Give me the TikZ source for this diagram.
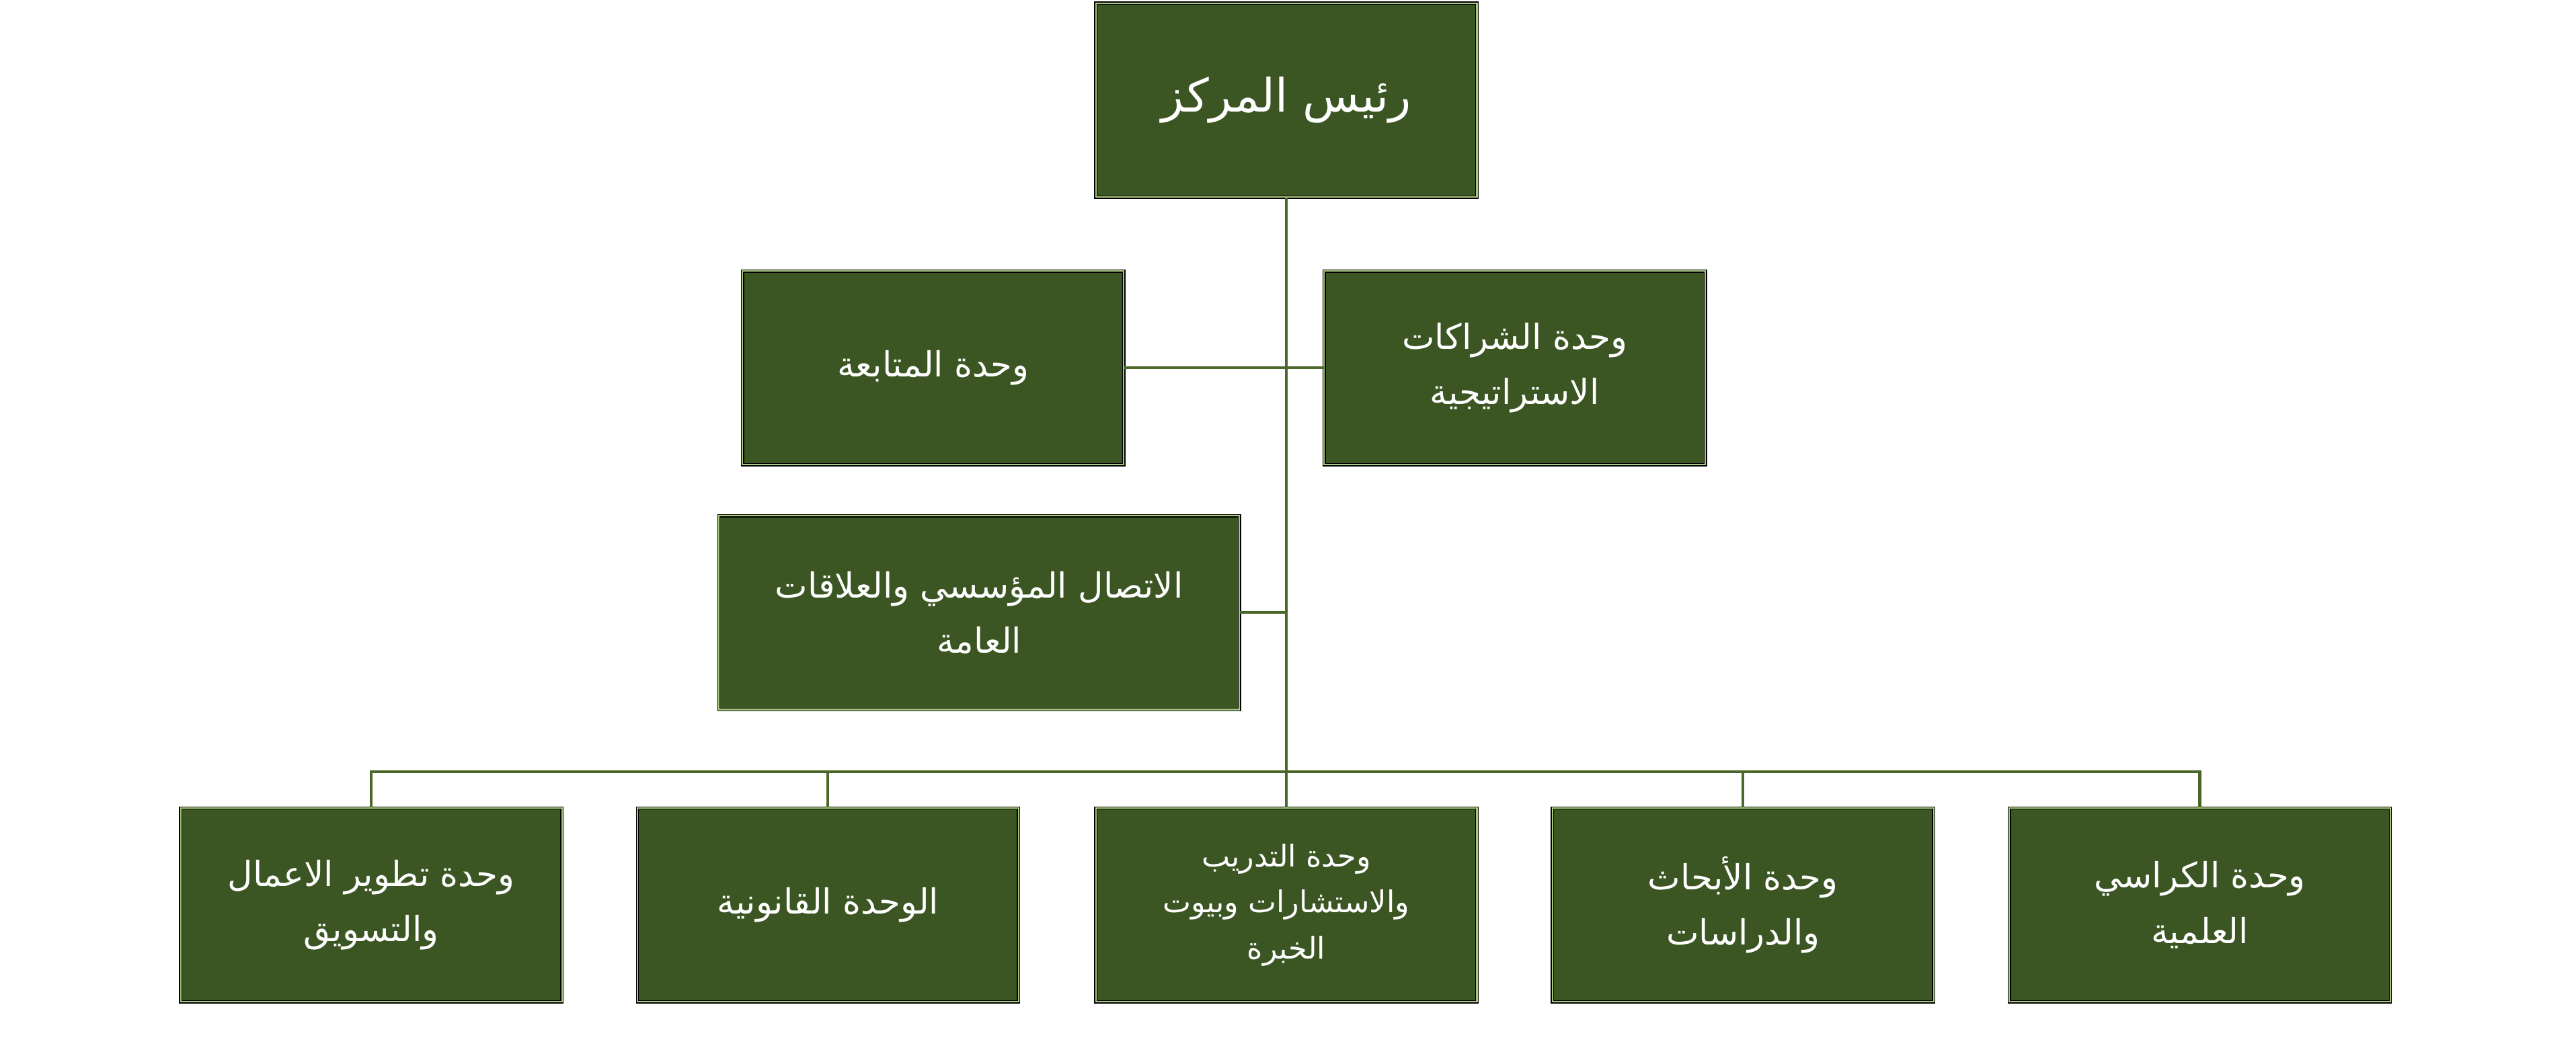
\documentclass[tikz,border=0pt]{standalone}
\usepackage{fontspec}
\newfontfamily\arabicfont[Script=Arabic]{DejaVu Sans}
\TeXXeTstate=1
\usetikzlibrary{positioning,calc}
\definecolor{boxgreen}{RGB}{59,85,35}
\definecolor{edgegreen}{RGB}{170,200,130}
\definecolor{linegreen}{RGB}{74,102,40}
\newcommand{\ar}[1]{\beginR #1\endR}
\tikzset{
  unitbox/.style={rectangle,draw=black,fill=boxgreen,text=white,
    minimum width=232*0.025cm,minimum height=118*0.025cm,
    align=center,font=\arabicfont\fontsize{15}{24}\selectfont,
    double=edgegreen,double distance=0.6pt},
  link/.style={draw=linegreen,line width=1.2pt}
}
\begin{document}
\begin{tikzpicture}[x=0.025cm,y=-0.025cm]
    \useasboundingbox (0,0) rectangle (1568,638);
    % head
    \node[unitbox,font=\arabicfont\fontsize{20}{24}\selectfont] (head) at (783,61) {\ar{رئيس المركز}};
    % middle units
    \node[unitbox] (follow) at (568,224) {\ar{وحدة المتابعة}};
    \node[unitbox] (partner) at (922,224) {\ar{وحدة الشراكات}\\\ar{الاستراتيجية}};
    \node[unitbox,minimum width=317*0.025cm] (media) at (596,373) {\ar{الاتصال المؤسسي والعلاقات}\\\ar{العامة}};
    % bottom row
    \node[unitbox] (market) at (226,551) {\ar{وحدة تطوير الاعمال}\\\ar{والتسويق}};
    \node[unitbox] (legal) at (504,551) {\ar{الوحدة القانونية}};
    \node[unitbox,font=\arabicfont\fontsize{13}{20}\selectfont] (train) at (783,551) {\ar{وحدة التدريب}\\\ar{والاستشارات وبيوت}\\\ar{الخبرة}};
    \node[unitbox] (research) at (1061,551) {\ar{وحدة الأبحاث}\\\ar{والدراسات}};
    \node[unitbox] (chairs) at (1339,551) {\ar{وحدة الكراسي}\\\ar{العلمية}};
    % connectors
    \coordinate (bus) at (783,470);
    \coordinate (midA) at (783,224);
    \coordinate (midB) at (783,373);
    \draw[link] (head.south) -- (bus);
    \draw[link] (follow.east) -- (midA) -- (partner.west);
    \draw[link] (media.east) -- (midB);
    \foreach \n in {market,legal,train,research,chairs}
      \draw[link] (bus) -| (\n.north);
\end{tikzpicture}
\end{document}
